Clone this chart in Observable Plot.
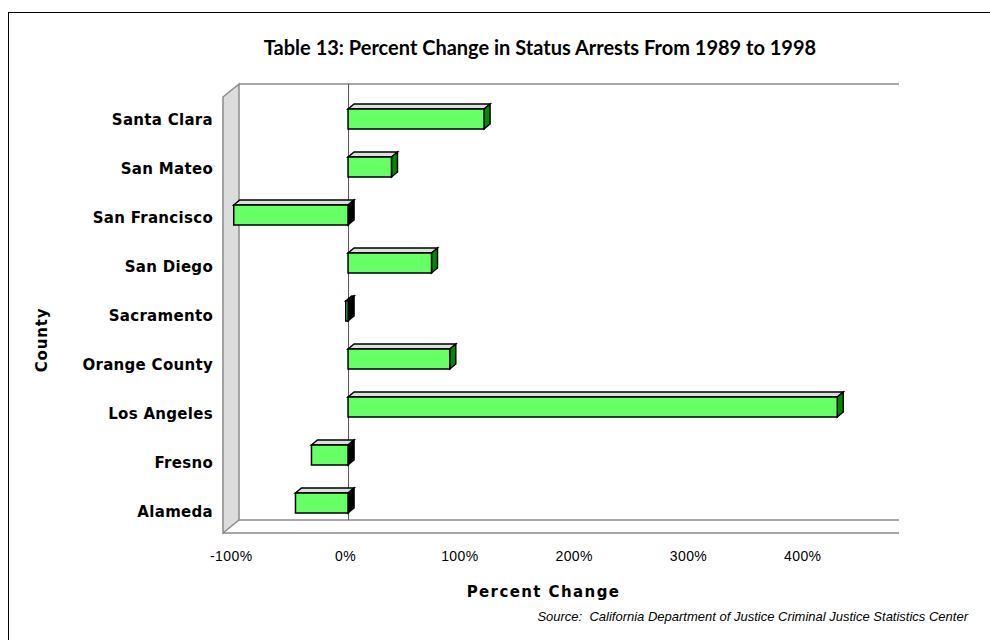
<!DOCTYPE html>
<html><head><meta charset="utf-8">
<script src="https://cdn.jsdelivr.net/npm/d3@7"></script>
<script src="https://cdn.jsdelivr.net/npm/@observablehq/plot@0.6"></script>
<style>
body{margin:0;background:#fff;}
#page{position:relative;width:990px;height:640px;overflow:hidden;background:#fff;}
#border{position:absolute;left:8px;top:12px;width:1000px;height:700px;border-left:1px solid #000;border-top:1px solid #000;pointer-events:none;}
#title{padding:35px 0 0 90px;width:900px;height:22px;line-height:20px;text-align:center;font:bold 20px Lato,sans-serif;color:#000;white-space:nowrap;}
#chart svg{display:block;}
#source{margin-top:4px;padding-right:22px;text-align:right;font:italic 13px "Liberation Sans",Arial,sans-serif;line-height:15px;white-space:pre;color:#000;}
</style></head>
<body>
<div id="page">
  <div id="border"></div>
  <div id="title">Table 13: Percent Change in Status Arrests From 1989 to 1998</div>
  <div id="chart"></div>
  <div id="source">Source:  California Department of Justice Criminal Justice Statistics Center</div>
</div>
<script>
// ---- data ----
const counties = ["Santa Clara","San Mateo","San Francisco","San Diego","Sacramento","Orange County","Los Angeles","Fresno","Alameda"];
const pctChange = [119, 38, -100, 73, -2, 89, 428, -32, -46];
const xTicks = [-100, 0, 100, 200, 300, 400];
const xTitle = "Percent Change";
const yTitle = "County";

const rows = counties.map((c, i) => ({county: c, value: pctChange[i]}));
const X_MIN = -95.4, X_MAX = 482;

// 3D depth offsets (pixels)
const WALL_DX = 16, WALL_DY = 13;
const BAR_DX = 6, BAR_DY = 5, BAR_SHIFT = 9;

const bandwidthOf = (y) => typeof y.bandwidth === "function" ? y.bandwidth() : 20;

function walls(index, scales, values, dim) {
  const x = scales.x;
  const L = x(X_MIN), R = dim.width - dim.marginRight;
  const T = dim.marginTop, B = dim.height - dim.marginBottom;
  const g = d3.create("svg:g");
  g.append("polygon")
    .attr("points", [[L - WALL_DX, T + WALL_DY], [L, T], [L, B], [L - WALL_DX, B + WALL_DY]].join(" "))
    .attr("fill", "#dcdcdc").attr("stroke", "#8a8a8a").attr("stroke-width", 1.5);
  const line = (x1, y1, x2, y2) => g.append("line").attr("x1", x1).attr("y1", y1).attr("x2", x2).attr("y2", y2)
    .attr("stroke", "#8a8a8a").attr("stroke-width", 1.5);
  line(L, T, R, T);
  line(L, B, R, B);
  line(L - WALL_DX, B + WALL_DY, R, B + WALL_DY);
  return g.node();
}

function bars3d(index, scales, values, dim) {
  const x = scales.x, y = scales.y;
  const bw = bandwidthOf(y);
  const g = d3.create("svg:g").attr("stroke", "#000").attr("stroke-width", 1.5).attr("stroke-linejoin", "miter");
  for (const r of rows) {
    const a = x(0), b = x(r.value);
    const left = Math.min(a, b), right = Math.max(a, b);
    const top = y(r.county) + BAR_SHIFT, bottom = top + bw;
    g.append("polygon")
      .attr("points", [[left, top], [left + BAR_DX, top - BAR_DY], [right + BAR_DX, top - BAR_DY], [right, top]].join(" "))
      .attr("fill", "#dedede");
    g.append("polygon")
      .attr("points", [[right, top], [right + BAR_DX, top - BAR_DY], [right + BAR_DX, bottom - BAR_DY], [right, bottom]].join(" "))
      .attr("fill", r.value >= 0 ? "#008a00" : "#000000");
    g.append("rect")
      .attr("x", left).attr("y", top).attr("width", Math.max(right - left, 1)).attr("height", bw)
      .attr("fill", "#66ff66");
  }
  return g.node();
}

// category labels, spread slightly (front-plane perspective)
function yLabels(index, scales, values, dim) {
  const y = scales.y;
  const bw = bandwidthOf(y);
  const g = d3.create("svg:g")
    .attr("font-family", "DejaVu Sans").attr("font-size", 15).attr("font-weight", "bold")
    .attr("text-anchor", "end").attr("letter-spacing", 0.3).attr("fill", "#000");
  counties.forEach((c, i) => {
    g.append("text").attr("x", dim.marginLeft - 26).attr("y", y(c) + bw / 2 + 10 + i).attr("dy", "0.35em").text(c);
  });
  return g.node();
}

function yAxisTitle(index, scales, values, dim) {
  const cx = dim.marginLeft - 197;
  const cy = (dim.marginTop + dim.height - dim.marginBottom) / 2 + 38;
  const g = d3.create("svg:g");
  g.append("text")
    .attr("transform", `translate(${cx},${cy}) rotate(-90)`)
    .attr("text-anchor", "middle").attr("dy", "0.35em")
    .attr("font-family", "DejaVu Sans").attr("font-size", 15).attr("font-weight", "bold")
    .attr("letter-spacing", 0.8).attr("fill", "#000")
    .text(yTitle);
  return g.node();
}

const chart = Plot.plot({
  width: 990,
  height: 548,
  marginLeft: 239,
  marginRight: 91,
  marginTop: 27,
  marginBottom: 85,
  x: {domain: [X_MIN, X_MAX], axis: null},
  y: {type: "band", domain: counties, paddingInner: 0.588, paddingOuter: 0.289, axis: null},
  style: {background: "transparent", overflow: "visible", color: "#000"},
  marks: [
    walls,
    Plot.ruleX([0], {stroke: "#555", strokeWidth: 1}),
    bars3d,
    yLabels,
    yAxisTitle,
    Plot.text(xTicks, {x: d => d, text: d => `${d}%`, frameAnchor: "bottom", dy: 40, dx: -3,
      fontSize: 14, fontFamily: "Liberation Sans", fill: "#000", ariaDescription: "xticks"}),
    Plot.text([xTitle], {text: d => d, frameAnchor: "bottom", dy: 76, dx: -26,
      fontSize: 15, fontWeight: "bold", fontFamily: "DejaVu Sans", fill: "#000", ariaDescription: "xtitle"})
  ]
});
const spacing = {xticks: 0.4, xtitle: 1.4};
for (const k in spacing) {
  const el = chart.querySelector(`[aria-description="${k}"]`);
  if (el) el.setAttribute("letter-spacing", spacing[k]);
}
document.getElementById("chart").appendChild(chart);
</script>
</body></html>
